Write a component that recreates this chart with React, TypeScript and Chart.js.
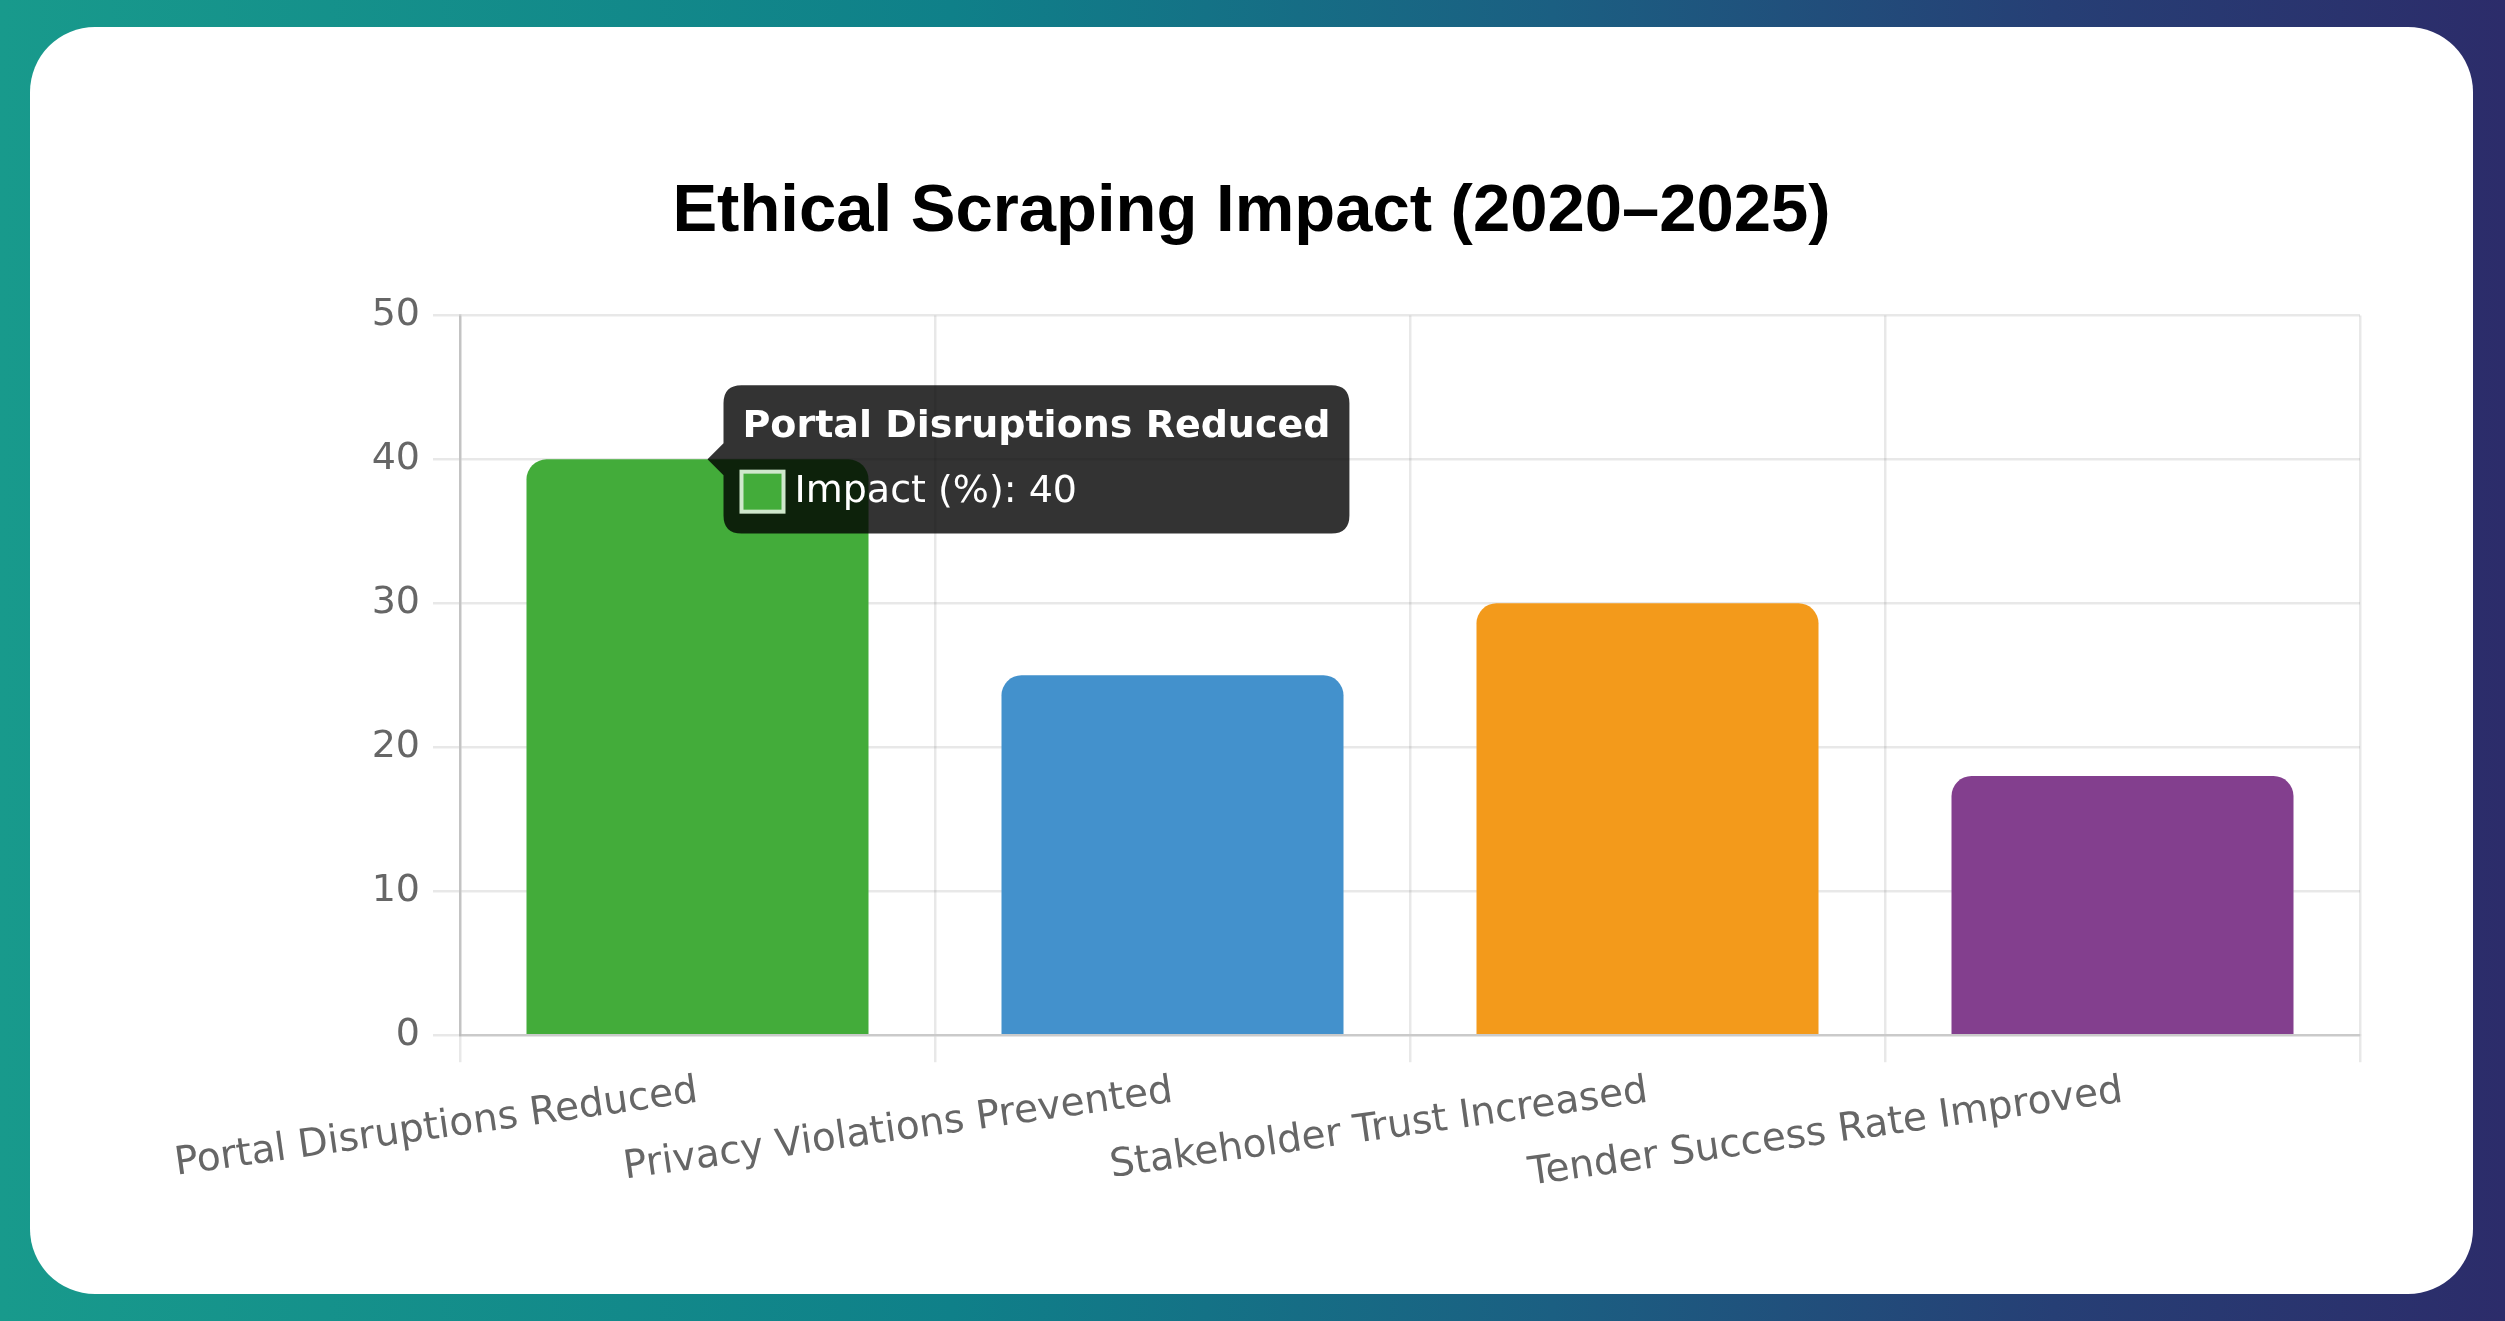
import React, { useEffect, useRef } from "react";
import { Chart, registerables } from "chart.js";

Chart.register(...registerables);

const chartTitle = "Ethical Scraping Impact (2020–2025)";
const categories = [
  "Portal Disruptions Reduced",
  "Privacy Violations Prevented",
  "Stakeholder Trust Increased",
  "Tender Success Rate Improved",
];
const seriesLabel = "Impact (%)";
const impactValues = [40, 25, 30, 18];
const barColors = ["#43ac3a", "#4391cc", "#f39a1b", "#833f8e"];
const yTicks = [0, 10, 20, 30, 40, 50];

const CANVAS_W = 2443;
const CANVAS_H = 1267;
const TICK_FONT = "'DejaVu Sans', Verdana, sans-serif";
const TITLE_FONT = "'Liberation Sans', Arial, Helvetica, sans-serif";

export default function App() {
  const ref = useRef<HTMLCanvasElement | null>(null);

  useEffect(() => {
    const canvas = ref.current;
    if (!canvas) return;
    const chart = new Chart(canvas, {
      type: "bar",
      data: {
        labels: categories,
        datasets: [
          {
            label: seriesLabel,
            data: impactValues,
            backgroundColor: barColors,
            borderWidth: 0,
            borderRadius: 20,
            borderSkipped: "start",
          },
        ],
      },
      options: {
        responsive: false,
        animation: false,
        events: [],
        layout: { padding: { top: 60, left: 113, right: 113, bottom: 90 } },
        scales: {
          x: {
            grid: { color: "rgba(0,0,0,0.09)", lineWidth: 2.5, tickLength: 27 },
            border: { color: "rgba(0,0,0,0.13)", width: 2.5 },
            ticks: {
              font: { family: TICK_FONT, size: 39 },
              color: "#666",
              minRotation: 8,
              maxRotation: 8,
              padding: 6,
            },
          },
          y: {
            min: yTicks[0],
            max: yTicks[yTicks.length - 1],
            grid: { color: "rgba(0,0,0,0.09)", lineWidth: 2.5, tickLength: 27 },
            border: { color: "rgba(0,0,0,0.16)", width: 2.5 },
            ticks: {
              stepSize: yTicks[1] - yTicks[0],
              font: { family: TICK_FONT, size: 38 },
              color: "#666",
              padding: 13,
            },
            afterFit: (scale: any) => {
              scale.width = 317;
            },
          },
        },
        plugins: {
          legend: { display: false },
          title: {
            display: true,
            text: chartTitle,
            color: "#000",
            font: { family: TITLE_FONT, size: 67, weight: "bold" },
            padding: { top: 85, bottom: 63 },
          },
          tooltip: {
            enabled: true,
            backgroundColor: "rgba(0,0,0,0.8)",
            titleColor: "#fff",
            bodyColor: "#fff",
            titleFont: { family: TICK_FONT, size: 38, weight: "bold" },
            bodyFont: { family: TICK_FONT, size: 38 },
            padding: 19,
            cornerRadius: 18,
            caretSize: 16,
            caretPadding: 10,
            titleMarginBottom: 19,
            boxWidth: 40,
            boxHeight: 38,
            boxPadding: 10,
            xAlign: "left",
            yAlign: "center",
            callbacks: {
              labelColor: (ctx: any) => ({
                borderColor: "#cfe8cc",
                backgroundColor: barColors[ctx.dataIndex],
                borderWidth: 6,
                borderRadius: 0,
              }),
            },
          },
        },
      } as any,
    });
    chart.tooltip?.setActiveElements([{ datasetIndex: 0, index: 0 }], { x: 0, y: 0 });
    chart.update();
    return () => chart.destroy();
  }, []);

  return (
    <div
      style={{
        position: "fixed",
        left: 0,
        top: 0,
        width: "100vw",
        height: "100vh",
        overflow: "hidden",
        background:
          "linear-gradient(90deg, #189a8c 0%, #0f8089 38%, #1b5f82 62%, #263f75 82%, #2c2c6a 100%)",
      }}
    >
      <div
        style={{
          position: "absolute",
          left: 30,
          top: 27,
          width: CANVAS_W,
          height: CANVAS_H,
          background: "#fff",
          borderRadius: 65,
          overflow: "hidden",
        }}
      >
        <canvas
          ref={ref}
          width={CANVAS_W}
          height={CANVAS_H}
          style={{ display: "block", width: CANVAS_W, height: CANVAS_H }}
        />
      </div>
    </div>
  );
}
